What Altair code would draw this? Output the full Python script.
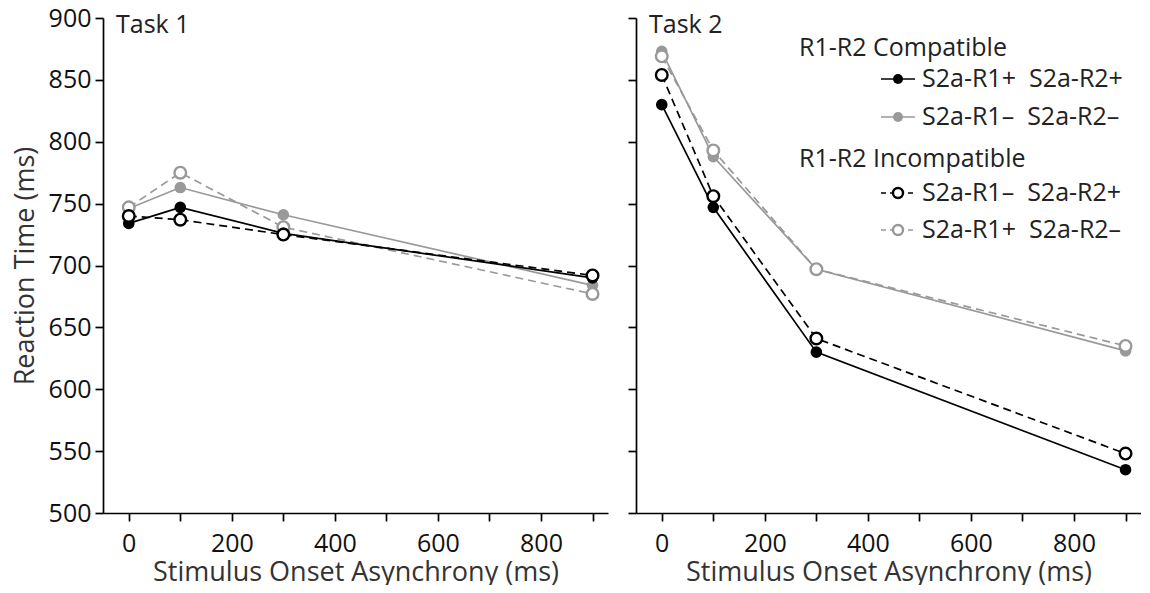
import altair as alt
import pandas as pd

FONT = "Open Sans"

soa = [0, 100, 300, 900]

# Task 1 reaction times (ms)
task1_comp_pp = [734, 747, 726, 690]    # S2a-R1+  S2a-R2+
task1_comp_mm = [746, 763, 741, 684]    # S2a-R1-  S2a-R2-
task1_incomp_mp = [740, 737, 725, 692]  # S2a-R1-  S2a-R2+
task1_incomp_pm = [747, 775, 731, 677]  # S2a-R1+  S2a-R2-

# Task 2 reaction times (ms)
task2_comp_pp = [830, 747, 630, 535]
task2_comp_mm = [873, 788, 697, 631]
task2_incomp_mp = [854, 756, 641, 548]
task2_incomp_pm = [869, 793, 697, 635]

NB = "\u00a0"
legend_labels = ["S2a-R1+" + NB + NB + "S2a-R2+", "S2a-R1–" + NB + NB + "S2a-R2–",
                 "S2a-R1–" + NB + NB + "S2a-R2+", "S2a-R1+" + NB + NB + "S2a-R2–"]
group_titles = ["R1-R2 Compatible", "R1-R2 Incompatible"]
x_ticks = [0, 100, 200, 300, 400, 500, 600, 700, 800, 900]
y_ticks = [500, 550, 600, 650, 700, 750, 800, 850, 900]

BLACK = "#000000"
GRAY = "#999999"

# style: (color, dashed, open)
styles = {
    "comp_mm": (GRAY, False, False),
    "incomp_pm": (GRAY, True, True),
    "comp_pp": (BLACK, False, False),
    "incomp_mp": (BLACK, True, True),
}
order = ["comp_mm", "incomp_pm", "comp_pp", "incomp_mp"]

W, H = 505, 495
one = pd.DataFrame({"k": [0]})


def line_mark(color, dashed, **kw):
    if dashed:
        return dict(color=color, strokeWidth=1.7, strokeDash=[8, 5], **kw)
    return dict(color=color, strokeWidth=1.7, **kw)


def point_mark(color, is_open, size):
    if is_open:
        return dict(shape="circle", size=size, filled=True, fill="white", stroke=color,
                    strokeWidth=2.4, opacity=1)
    return dict(shape="circle", size=size, filled=True, color=color, opacity=1)


def panel(data, title_text, first, legend):
    xenc = alt.X("soa:Q", scale=alt.Scale(domain=[-50, 930], nice=False, zero=False),
                 axis=alt.Axis(values=x_ticks, labelExpr="datum.value % 200 == 0 ? datum.label : ''",
                               title="Stimulus Onset Asynchrony (ms)", labelFlush=False))
    if first:
        yaxis = alt.Axis(values=y_ticks, title="Reaction Time (ms)")
    else:
        yaxis = alt.Axis(values=y_ticks, labels=False, title=None)
    yenc = alt.Y("rt:Q", scale=alt.Scale(domain=[500, 900], nice=False, zero=False), axis=yaxis)

    lines, pts = [], []
    for key in order:
        color, dashed, is_open = styles[key]
        df = pd.DataFrame({"soa": soa, "rt": data[key]})
        lines.append(alt.Chart(df).mark_line(**line_mark(color, dashed)).encode(x=xenc, y=yenc))
        pts.append(alt.Chart(df).mark_point(**point_mark(color, is_open, 135)).encode(x=xenc, y=yenc))

    title = alt.Chart(one).mark_text(text=title_text, align="left", baseline="alphabetic",
                                     font=FONT, fontSize=25, color="#222222").encode(
        x=alt.value(13), y=alt.value(15))
    layers = lines + pts + [title]

    if legend:
        gy = [38, 149]
        for t, yy in zip(group_titles, gy):
            layers.append(alt.Chart(one).mark_text(text=t, align="left", baseline="alphabetic",
                                                   font=FONT, fontSize=25, color="#222222").encode(
                x=alt.value(163), y=alt.value(yy)))
        rows = [("comp_pp", 61), ("comp_mm", 99), ("incomp_mp", 175), ("incomp_pm", 212)]
        lab = {"comp_pp": legend_labels[0], "comp_mm": legend_labels[1],
               "incomp_mp": legend_labels[2], "incomp_pm": legend_labels[3]}
        for key, yy in rows:
            color, dashed, is_open = styles[key]
            if dashed:
                layers.append(alt.Chart(one).mark_rule(color=color, strokeWidth=1.7, strokeDash=[5, 4]).encode(
                    x=alt.value(245), x2=alt.value(279), y=alt.value(yy)))
            else:
                layers.append(alt.Chart(one).mark_rule(color=color, strokeWidth=1.7).encode(
                    x=alt.value(245), x2=alt.value(279), y=alt.value(yy)))
            layers.append(alt.Chart(one).mark_point(**point_mark(color, is_open, 100)).encode(
                x=alt.value(262), y=alt.value(yy)))
            layers.append(alt.Chart(one).mark_text(text=lab[key], align="left", baseline="middle",
                                                   font=FONT, fontSize=25, color="#222222").encode(
                x=alt.value(286), y=alt.value(yy)))

    return alt.layer(*layers).properties(width=W, height=H)


d1 = {"comp_pp": task1_comp_pp, "comp_mm": task1_comp_mm,
      "incomp_mp": task1_incomp_mp, "incomp_pm": task1_incomp_pm}
d2 = {"comp_pp": task2_comp_pp, "comp_mm": task2_comp_mm,
      "incomp_mp": task2_incomp_mp, "incomp_pm": task2_incomp_pm}

chart = alt.hconcat(
    panel(d1, "Task 1", True, False),
    panel(d2, "Task 2", False, True),
    spacing=19,
).properties(
    padding={"left": 11, "top": 6, "right": 0, "bottom": 0},
    background="white",
).configure_view(stroke=None).configure_axis(
    grid=False,
    domainColor="black", domainWidth=1.7,
    tickColor="black", tickWidth=1.7, tickSize=8,
    labelFont=FONT, labelFontSize=25, labelColor="#111111", labelPadding=4,
    titleFont=FONT, titleFontSize=27, titleFontWeight="normal", titleColor="#333333",
).configure_axisY(titlePadding=9).configure_axisX(labelPadding=10, titlePadding=3)

chart.save("out.html", embed_options={"renderer": "svg", "actions": False})
